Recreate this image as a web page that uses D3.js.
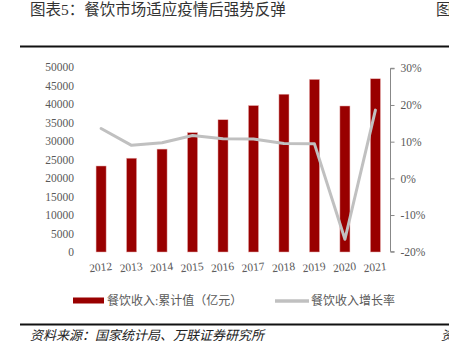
<!DOCTYPE html>
<html>
<head>
<meta charset="utf-8">
<script src="https://cdn.jsdelivr.net/npm/d3@7"></script>
<style>
  body { margin: 0; background: #fff; }
  svg { display: block; }
</style>
</head>
<body>
<svg id="chart"></svg>
<script>
let width = 449,
    height = 355,
    svg = d3.select("#chart").attr("width", width).attr("height", height);

// data
const years = ["2012", "2013", "2014", "2015", "2016", "2017", "2018", "2019", "2020", "2021"];
const revenue = [23283, 25392, 27860, 32310, 35799, 39644, 42716, 46721, 39527, 46895];
const growth = [13.6, 9.0, 9.7, 11.7, 10.8, 10.7, 9.5, 9.4, -16.6, 18.6];
const leftTicks = [0, 5000, 10000, 15000, 20000, 25000, 30000, 35000, 40000, 45000, 50000];
const rightTicks = [-20, -10, 0, 10, 20, 30];

const serif = "'Liberation Serif', 'Times New Roman', 'Noto Sans CJK SC', serif";
const cjk = "'Liberation Serif', 'Noto Sans CJK SC', serif";
const textGray = "#595959";

let x = d3.scaleBand().domain(years).range([86, 390.5]).paddingInner(0.67).paddingOuter(0.33);
let yL = d3.scaleLinear().domain([0, 50000]).range([252, 67.3]);
let yR = d3.scaleLinear().domain([-20, 30]).range([251.7, 68.3]);

// title (the lone glyph on the right belongs to the next column, cut off as in the original)
svg.append("text")
    .attr("x", 30).attr("y", 15)
    .attr("font-family", cjk).attr("font-size", 15.5)
    .attr("fill", "#333")
    .text("图表5：餐饮市场适应疫情后强势反弹");
svg.append("text")
    .attr("x", 436).attr("y", 15)
    .attr("font-family", cjk).attr("font-size", 15.5)
    .attr("fill", "#333")
    .text("图");

// rules
svg.append("line").attr("x1", 20).attr("x2", 449).attr("y1", 46.5).attr("y2", 46.5)
    .attr("stroke", "#111").attr("stroke-width", 2.2);
svg.append("line").attr("x1", 20).attr("x2", 449).attr("y1", 324.5).attr("y2", 324.5)
    .attr("stroke", "#111").attr("stroke-width", 2.2);

// bars
svg.selectAll("rect.bar")
    .data(revenue)
    .enter()
    .append("rect")
    .attr("class", "bar")
    .attr("x", (d, i) => x(years[i]))
    .attr("width", x.bandwidth())
    .attr("y", d => yL(d))
    .attr("height", d => yL(0) - yL(d))
    .attr("fill", "#990000")
    .attr("stroke", "#e8b0b0")
    .attr("stroke-width", 0.5);

// growth line
let line = d3.line()
    .x((d, i) => x(years[i]) + x.bandwidth() / 2)
    .y(d => yR(d));
svg.append("path")
    .datum(growth)
    .attr("d", line)
    .attr("fill", "none")
    .attr("stroke", "#c0c0c0")
    .attr("stroke-width", 3)
    .attr("stroke-linejoin", "round")
    .attr("stroke-linecap", "round");

// left axis (labels only)
let leftAxis = svg.append("g")
    .attr("transform", "translate(74,0)")
    .call(d3.axisLeft(yL).tickValues(leftTicks).tickSize(0).tickPadding(0).tickFormat(d3.format("d")));
leftAxis.select(".domain").remove();
leftAxis.selectAll("text")
    .attr("font-family", serif).attr("font-size", 11.5).attr("fill", textGray);

// right axis
let rightAxis = svg.append("g")
    .attr("transform", "translate(390.5,0)")
    .call(d3.axisRight(yR).tickValues(rightTicks).tickSize(4).tickPadding(6).tickFormat(d => d + "%"));
rightAxis.select(".domain").attr("stroke", "#888").attr("d", "M4,68.3H0V251.7H4");
rightAxis.selectAll(".tick line").attr("stroke", "#888");
rightAxis.selectAll("text")
    .attr("font-family", serif).attr("font-size", 11.5).attr("fill", textGray);

// x labels, slightly tilted
svg.selectAll("text.xlab")
    .data(years)
    .enter()
    .append("text")
    .attr("class", "xlab")
    .attr("transform", d => "translate(" + (x(d) + x.bandwidth() / 2) + ",271) rotate(-6)")
    .attr("text-anchor", "middle")
    .attr("font-family", serif).attr("font-size", 11.5).attr("fill", textGray)
    .text(d => d);

// legend
svg.append("rect")
    .attr("x", 73).attr("y", 297.5).attr("width", 31).attr("height", 6)
    .attr("fill", "#990000");
svg.append("text")
    .attr("x", 107).attr("y", 305)
    .attr("font-family", cjk).attr("font-size", 12).attr("fill", textGray)
    .text("餐饮收入:累计值（亿元）");
svg.append("line")
    .attr("x1", 275).attr("x2", 309).attr("y1", 301).attr("y2", 301)
    .attr("stroke", "#c0c0c0").attr("stroke-width", 3.5);
svg.append("text")
    .attr("x", 311).attr("y", 305)
    .attr("font-family", cjk).attr("font-size", 12).attr("fill", textGray)
    .text("餐饮收入增长率");

// source
svg.append("text")
    .attr("x", 30).attr("y", 340)
    .attr("font-family", cjk).attr("font-size", 13).attr("font-style", "italic")
    .attr("fill", "#222")
    .text("资料来源：国家统计局、万联证券研究所");
svg.append("text")
    .attr("x", 441).attr("y", 340)
    .attr("font-family", cjk).attr("font-size", 13).attr("font-style", "italic")
    .attr("fill", "#222")
    .text("资");
</script>
</body>
</html>
